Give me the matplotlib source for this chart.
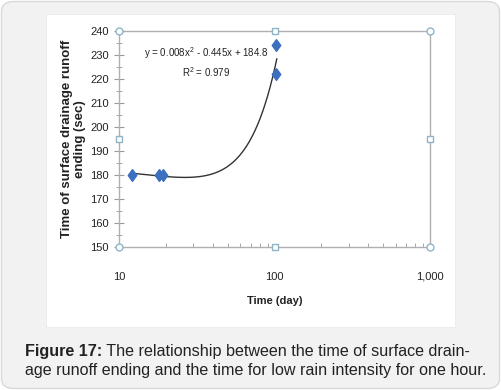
import numpy as np
import matplotlib.pyplot as plt
from matplotlib.patches import FancyBboxPatch, Rectangle
from matplotlib.ticker import FixedLocator, FuncFormatter

time_day = [12, 18, 19, 102, 102]
runoff_end = [180, 180, 180, 234, 222]
# trend line as drawn in the chart (displayed equation is rounded)
trend_coef = [0.0084, -0.445, 184.8]
trend_range = [12, 103.2]
y_ticks = [150, 160, 170, 180, 190, 200, 210, 220, 230, 240]
x_ticks = [10, 100, 1000]
x_labels = ['10', '100', '1,000']
equation = 'y = 0.008x$^2$ - 0.445x + 184.8'
r2_text = 'R$^2$ = 0.979'
caption_bold = 'Figure 17:'
caption_line1 = ' The relationship between the time of surface drain-'
caption_line2 = 'age runoff ending and the time for low rain intensity for one hour.'

plt.rcParams['font.family'] = ['Liberation Sans', 'DejaVu Sans']
plt.rcParams['mathtext.fontset'] = 'custom'
plt.rcParams['mathtext.rm'] = 'Liberation Sans'

W, H = 501, 390
fig = plt.figure(figsize=(W / 100, H / 100), dpi=100)
fig.patch.set_facecolor('white')

# outer grey card and white chart box
fig.patches.append(FancyBboxPatch((1.5 / W, 1.5 / H), (W - 3) / W, (H - 3) / H,
                                  boxstyle='round,pad=0,rounding_size=0.025',
                                  transform=fig.transFigure, facecolor='#f2f2f2',
                                  edgecolor='#d9d9d9', linewidth=1, zorder=-10))
fig.patches.append(Rectangle((46 / W, 1 - 327 / H), (455 - 46) / W, (327 - 14) / H,
                             transform=fig.transFigure, facecolor='white',
                             edgecolor='#e4ecf0', linewidth=0.6, zorder=-9))

x0, x1, yt, yb = 119.3, 430, 31, 246.7
ax = fig.add_axes([x0 / W, 1 - yb / H, (x1 - x0) / W, (yb - yt) / H])
ax.set_facecolor('none')
ax.set_xscale('log')
ax.set_xlim(10, 1000)
ax.set_ylim(150, 240)

xs = np.linspace(trend_range[0], trend_range[1], 300)
ax.plot(xs, np.polyval(trend_coef, xs), color='#333333', lw=1.0, zorder=2)
diamond = [(0, 1), (0.72, 0), (0, -1), (-0.72, 0), (0, 1)]
ax.plot(time_day, runoff_end, linestyle='none', marker=diamond, ms=8.5,
        color='#3b6fbf', zorder=3)

for s in ax.spines.values():
    s.set_color('#b0b0b0')
    s.set_linewidth(1.0)

ax.yaxis.set_major_locator(FixedLocator(y_ticks))
ax.yaxis.set_minor_locator(FixedLocator(np.arange(155, 240, 10)))
ax.tick_params(axis='y', which='major', direction='inout', length=7, color='#999999',
               labelsize=8, pad=4)
ax.tick_params(axis='y', which='minor', direction='inout', length=4, color='#999999')
ax.xaxis.set_major_locator(FixedLocator(x_ticks))
ax.xaxis.set_major_formatter(FuncFormatter(lambda v, p: x_labels[x_ticks.index(int(round(v)))]))
minors = [m * d for d in (10, 100) for m in range(2, 10)]
ax.xaxis.set_minor_locator(FixedLocator(minors))
ax.xaxis.set_minor_formatter(FuncFormatter(lambda v, p: ''))
ax.tick_params(axis='x', which='major', direction='in', length=0, labelsize=8, pad=18)
ax.tick_params(axis='x', which='minor', direction='in', length=3, color='#999999')
for lab in ax.get_xticklabels() + ax.get_yticklabels():
    lab.set_color('#222222')

# selection handles of the plot area
hc = [(10, 240), (1000, 240), (10, 150), (1000, 150)]
hs = [(100, 240), (100, 150), (10, 195), (1000, 195)]
ax.plot([p[0] for p in hc], [p[1] for p in hc], 'o', ms=5, mfc='white', mec='#8fb4c8',
        mew=1, clip_on=False, zorder=4)
ax.plot([p[0] for p in hs], [p[1] for p in hs], 's', ms=4, mfc='white', mec='#8fb4c8',
        mew=1, clip_on=False, zorder=4)

ax.set_xlabel('Time (day)', fontsize=8, fontweight='bold', labelpad=10, color='#222222')
ax.set_ylabel('Time of surface drainage runoff\nending (sec)', fontsize=9.5,
              fontweight='bold', labelpad=3, linespacing=1.1, color='#222222')

fig.text(206 / W, 1 - 53 / H, equation, fontsize=7, ha='center',
         va='center', color='#222222')
fig.text(206 / W, 1 - 72 / H, r2_text, fontsize=7, ha='center',
         va='center', color='#222222')

# caption
t = fig.text(25 / W, 1 - 351.5 / H, caption_bold, fontsize=11.65, fontweight='bold',
             ha='left', va='center', color='#222222')
fig.canvas.draw()
bb = t.get_window_extent()
fig.text(bb.x1 / W, 1 - 351.5 / H, caption_line1, fontsize=11.65,
         ha='left', va='center', color='#222222')
fig.text(25 / W, 1 - 371 / H, caption_line2, fontsize=11.65,
         ha='left', va='center', color='#222222')

fig.savefig('out.png', dpi=100)
